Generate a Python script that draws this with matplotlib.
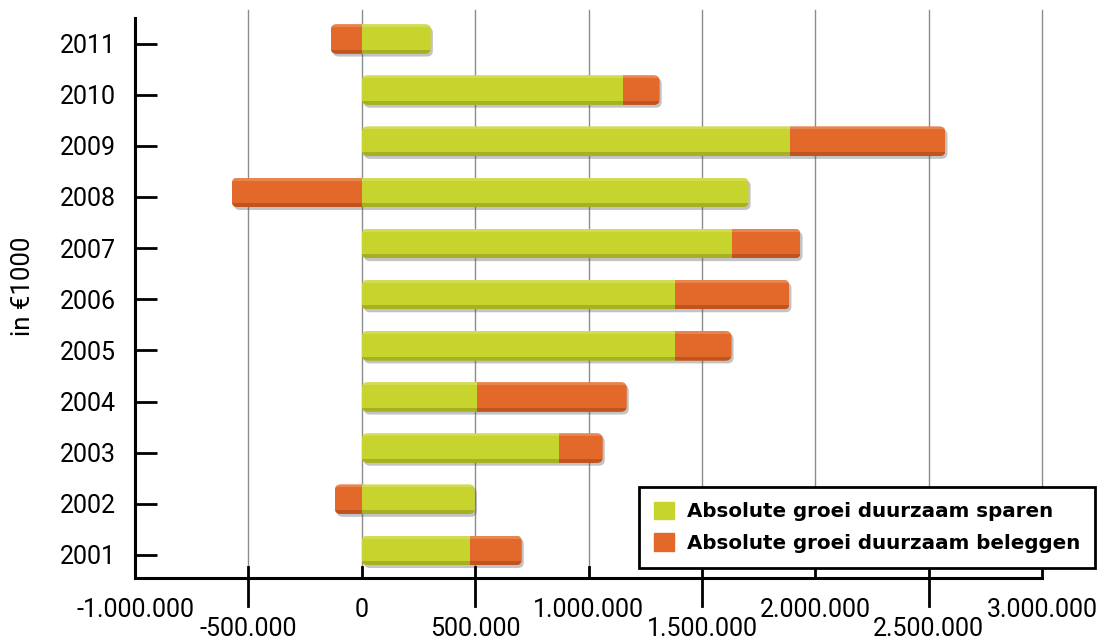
import numpy as np
import matplotlib.pyplot as plt
from matplotlib import font_manager
from matplotlib.patches import FancyBboxPatch, Patch
import matplotlib.patheffects as pe

years = [2001, 2002, 2003, 2004, 2005, 2006, 2007, 2008, 2009, 2010, 2011]
sparen = [476000, 498000, 868000, 507000, 1383000, 1383000, 1634000, 1705000, 1890000, 1150000, 304000]
beleggen = [229000, -119000, 194000, 661000, 247000, 502000, 300000, -573000, 683000, 163000, -137000]

xticks = [-1000000, -500000, 0, 500000, 1000000, 1500000, 2000000, 2500000, 3000000]
xlabels = ["-1.000.000", "-500.000", "0", "500.000", "1.000.000",
           "1.500.000", "2.000.000", "2.500.000", "3.000.000"]

green = "#c8d42e"
orange = "#e2692a"

names = {f.name for f in font_manager.fontManager.ttflist}
tick_font = "Roboto" if "Roboto" in names else "DejaVu Sans"
tick_size = 18

fig = plt.figure(figsize=(11.05, 6.42), dpi=100)
ax = fig.add_axes([0.1222, 0.0997, 0.8210, 0.8723])

sp = np.array(sparen)
bl = np.array(beleggen)
y = np.array(years) + 0.09
h = 0.58

# beleggen stacks after sparen when positive, left of zero when negative
bl_left = np.where(bl >= 0, sp, 0)
bars_s = ax.barh(y, sp, height=h, color=green, zorder=3)
bars_b = ax.barh(y, bl, left=bl_left, height=h, color=orange, zorder=3)

# rounded outline per year, used as clip path and shadow
rx = 26000
ry_per_x = 0.115 / rx
for i, yr in enumerate(y):
    lo = min(0, bl[i])
    hi = max(sp[i], sp[i] + max(bl[i], 0))
    box = FancyBboxPatch((lo, yr - h / 2), hi - lo, h,
                         boxstyle=f"round,pad=0,rounding_size={rx}",
                         mutation_aspect=ry_per_x, facecolor="none",
                         edgecolor="none", zorder=2)
    ax.add_patch(box)
    shadow = FancyBboxPatch((lo, yr - h / 2), hi - lo, h,
                            boxstyle=f"round,pad=0,rounding_size={rx}",
                            mutation_aspect=ry_per_x, facecolor="none",
                            edgecolor="none", zorder=2.5,
                            path_effects=[pe.SimplePatchShadow(offset=(1.5, -2), alpha=0.35,
                                                               shadow_rgbFace="#555555")])
    ax.add_patch(shadow)
    bars_s[i].set_clip_path(box)
    bars_b[i].set_clip_path(box)
    # darker bottom edge and light top edge for the bevel look
    for bar, dark in ((bars_s[i], "#8f9a1c"), (bars_b[i], "#a9461a")):
        x0, w = bar.get_x(), bar.get_width()
        strip = ax.barh(yr - h / 2 + 0.04, w, left=x0, height=0.08, color=dark,
                        alpha=0.6, zorder=3.2)[0]
        strip.set_clip_path(box)
        top = ax.barh(yr + h / 2 - 0.03, w, left=x0, height=0.06, color="white",
                      alpha=0.18, zorder=3.2)[0]
        top.set_clip_path(box)

ax.set_xlim(-1000000, 3000000)
ax.set_ylim(2000.55, 2011.5)

for x in xticks[1:]:
    ax.plot([x, x], [0, 1.015], transform=ax.get_xaxis_transform(), color="#8c8c8c",
            lw=1, zorder=1, clip_on=False)

for s in ("top", "right"):
    ax.spines[s].set_visible(False)
for s in ("left", "bottom"):
    ax.spines[s].set_linewidth(2.2)
    ax.spines[s].set_color("black")

ax.set_yticks(years)
ax.set_yticklabels([str(v) for v in years], fontsize=tick_size, family=tick_font)
ax.tick_params(axis="y", direction="in", length=16, width=2, pad=14)

# staggered x labels: even ticks short, odd ticks long and labels one row lower
ax.set_xticks(xticks)
ax.set_xticklabels([])
ax.tick_params(axis="x", length=0)
for i, x in enumerate(xticks):
    if i % 2 == 0:
        ax.plot([x, x], [0, 0.02], transform=ax.get_xaxis_transform(), color="black",
                lw=2, clip_on=False, zorder=5)
        ax.text(x, -0.057, xlabels[i], transform=ax.get_xaxis_transform(),
                ha="center", va="center", fontsize=tick_size, family=tick_font)
    else:
        ax.plot([x, x], [-0.05, 0.02], transform=ax.get_xaxis_transform(), color="black",
                lw=2, clip_on=False, zorder=5)
        ax.text(x, -0.091, xlabels[i], transform=ax.get_xaxis_transform(),
                ha="center", va="center", fontsize=tick_size, family=tick_font)

ax.set_ylabel("in €1000", fontsize=18.5, family=tick_font)
ax.yaxis.set_label_coords(-0.11, 0.52)

handles = [Patch(color=green, label="Absolute groei duurzaam sparen"),
           Patch(color=orange, label="Absolute groei duurzaam beleggen")]
leg = ax.legend(handles=handles, loc="lower right", bbox_to_anchor=(1.0584, 0.018),
                borderaxespad=0, prop={"weight": "bold", "size": 14.3}, frameon=True,
                fancybox=False, edgecolor="black", framealpha=1, handlelength=1.0,
                handleheight=1.0, handletextpad=0.65, borderpad=0.75, labelspacing=0.6)
leg.get_frame().set_linewidth(2)
leg.set_zorder(6)

fig.savefig("out.png", dpi=100)
